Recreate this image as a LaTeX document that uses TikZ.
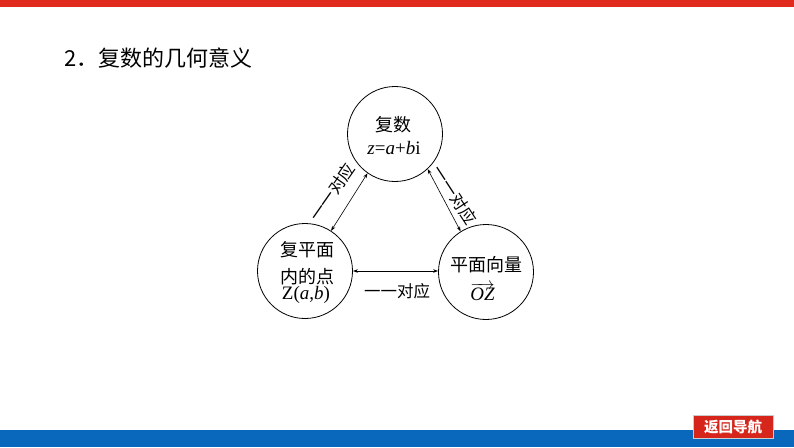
\documentclass[tikz,border=0pt]{standalone}
\usepackage{fontspec}
\setmainfont{Liberation Serif}
\newfontfamily\cjk{Noto Sans CJK SC}
\usetikzlibrary{arrows.meta}
\definecolor{topred}{RGB}{224,42,30}
\definecolor{botblue}{RGB}{10,104,188}
\definecolor{btnred}{RGB}{214,38,28}
\begin{document}
\begin{tikzpicture}[x=1pt,y=-1pt,
  circ/.style={draw, circle, line width=0.8pt, minimum size=95pt, inner sep=0pt},
  arr/.style={{Stealth[length=5pt,width=3.5pt]}-{Stealth[length=5pt,width=3.5pt]}, line width=0.6pt},
  lbl/.style={font=\cjk\fontsize{16.5}{16.5}\selectfont, inner sep=0pt},
  ctext/.style={font=\cjk\fontsize{18}{18}\selectfont, inner sep=0pt},
  mtext/.style={font=\fontsize{19}{19}\selectfont, inner sep=0pt}]
\useasboundingbox (0,0) rectangle (794,447);
\fill[topred] (0,0) rectangle (794,7);
\fill[botblue] (0,430) rectangle (794,447);
\node[draw=gray!40, fill=btnred, line width=0.8pt, minimum width=80pt, minimum height=23pt, inner sep=0pt, text=white, font=\cjk\bfseries\fontsize{14.5}{14.5}\selectfont] (nav) at (733,426.5) {返回导航};
\node[anchor=west, font=\cjk\fontsize{22}{24}\selectfont, inner sep=0pt] (title) at (64,58) {2．复数的几何意义};

\node[circ] (T) at (395,134) {};
\node[circ] (L) at (305,271) {};
\node[circ] (R) at (486,272) {};

\node[ctext] (t1) at (393.5,125) {复数};
\node[mtext] (t2) at (394,148) {\textit{z}=\textit{a}+\textit{b}i};
\node[ctext] (l1) at (307.5,250) {复平面};
\node[ctext] (l2) at (307.5,276.5) {内的点};
\node[mtext] (l3) at (306,295) {Z(\textit{a},\textit{b})};
\node[ctext] (r1) at (486,265) {平面向量};
\node[mtext] (r2) at (482.5,292) {$\overrightarrow{\textit{OZ}}$};

\draw[arr] (L.57.5) -- (T.235.3);
\draw[arr] (T.-47.6) -- (R.122.7);
\draw[arr] (L.east) -- (L.east -| R.west);

\node[lbl, rotate=55] (la) at (332,192) {一一对应};
\node[lbl, rotate=-57] (lb) at (454.5,195) {一一对应};
\node[lbl] (lc) at (397,291) {一一对应};
\end{tikzpicture}
\end{document}
